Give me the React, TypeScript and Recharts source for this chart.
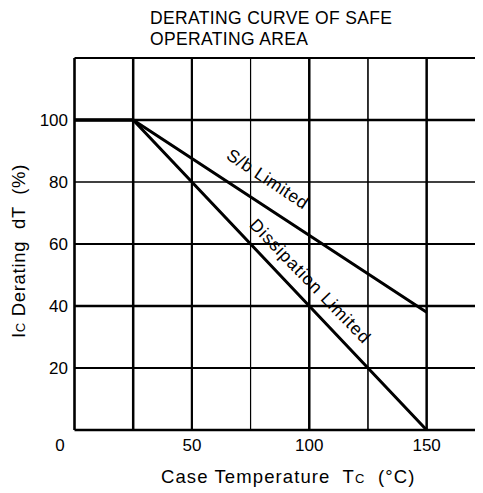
import React from "react";
import {
  LineChart,
  Line,
  XAxis,
  YAxis,
  ReferenceLine,
  ReferenceDot,
  Label,
} from "recharts";

// Case temperature (°C) breakpoints
const temps = [0, 25, 150];
// S/b limited derating (%)
const sbLimited = [100, 100, 38];
// Dissipation limited derating (%)
const dissLimited = [100, 100, 0];

const xTicks = [0, 50, 100, 150];
const yTicks = [20, 40, 60, 80, 100];
const xGrid = [25, 50, 75, 100, 125, 150];
const yGrid = [20, 40, 60, 80, 100, 120];

const titleLines = ["DERATING CURVE OF SAFE", "OPERATING AREA"];
const curveNames = ["S/b Limited", "Dissipation Limited"];
// label anchor points in data units (temperature, %)
const curveLabelTemps = [82.3, 100.5];
const curveLabelValues = [81.0, 48.0];

// styles
const xGridWidths = [2.5, 2.2, 1.2, 2.5, 1.6, 2.5];
const yGridWidths = [1.8, 2.5, 1.8, 1.3, 2.5, 2];
const curveLabelAngles = [33.5, 46];
const curveLabelSpacing = [0.6, 1.0];
const FONT = "'Liberation Sans', Arial, Helvetica, sans-serif";

const data = temps.map((t, i) => ({ t, sb: sbLimited[i], diss: dissLimited[i] }));

const XTick = (props: any) => {
  const { x, y, payload } = props;
  return (
    <text
      x={x + (payload.value === 0 ? -14.5 : 0)}
      y={y}
      dy="0.71em"
      textAnchor="middle"
      fontSize={17}
      fontFamily={FONT}
      fill="#000"
    >
      {payload.value}
    </text>
  );
};

const XLabel = (props: any) => {
  const vb = props.viewBox;
  return (
    <text
      x={vb.x + vb.width / 2 + 9.5}
      y={vb.y + 53}
      textAnchor="middle"
      fontSize={18.5}
      fontFamily={FONT}
      fill="#000"
      letterSpacing={1.1}
      style={{ whiteSpace: "pre" }}
    >
      {"Case Temperature  T"}
      <tspan fontSize={13}>C</tspan>
      {"  (°C)"}
    </text>
  );
};

const YLabel = (props: any) => {
  const vb = props.viewBox;
  const cx = vb.x + 16.5;
  const cy = vb.y + vb.height / 2 + 7;
  return (
    <text
      x={cx}
      y={cy}
      transform={`rotate(-90 ${cx} ${cy})`}
      textAnchor="middle"
      fontSize={18.5}
      fontFamily={FONT}
      fill="#000"
      letterSpacing={0.7}
      style={{ whiteSpace: "pre" }}
    >
      {"I"}
      <tspan fontSize={13}>C</tspan>
      {" Derating  dT  (%)"}
    </text>
  );
};

const makeCurveLabel = (text: string, angle: number, spacing: number) => (p: any) => (
  <text
    x={p.cx}
    y={p.cy}
    transform={`rotate(${angle} ${p.cx} ${p.cy})`}
    textAnchor="middle"
    dominantBaseline="central"
    fontSize={17.5}
    fontFamily={FONT}
    letterSpacing={spacing}
    fill="#000"
  >
    {text}
  </text>
);

export default function App() {
  return (
    <div style={{ position: "relative", width: 475, height: 485, fontFamily: FONT }}>
      <style>{"html,body{overflow:hidden}"}</style>
      <div
        style={{
          position: "absolute",
          left: 142,
          top: 0,
          fontSize: 17.5,
          lineHeight: "21px",
          letterSpacing: 0.35,
          color: "#000",
          whiteSpace: "pre",
          zIndex: 2,
        }}
      >
        {titleLines.map((l) => (
          <div key={l}>{l}</div>
        ))}
      </div>
      <LineChart
        width={475}
        height={485}
        data={data}
        margin={{ top: 50, right: 0, bottom: 0, left: 0 }}
      >
        <XAxis
          dataKey="t"
          type="number"
          domain={[0, 174]}
          ticks={xTicks}
          allowDataOverflow
          height={63}
          tickLine={false}
          tickSize={0}
          tickMargin={9}
          axisLine={{ stroke: "#000", strokeWidth: 2.6 }}
          tick={<XTick />}
        >
          <Label content={<XLabel />} />
        </XAxis>
        <YAxis
          type="number"
          domain={[0, 120]}
          ticks={yTicks}
          width={66.5}
          tickLine={false}
          tickSize={0}
          tickMargin={6.5}
          axisLine={{ stroke: "#000", strokeWidth: 2.6 }}
          tick={{ fill: "#000", fontSize: 17, fontFamily: FONT }}
        >
          <Label content={<YLabel />} />
        </YAxis>
        {xGrid.map((g, i) => (
          <ReferenceLine key={"x" + g} x={g} stroke="#000" strokeWidth={xGridWidths[i]} ifOverflow="visible" />
        ))}
        {yGrid.map((g, i) => (
          <ReferenceLine key={"y" + g} y={g} stroke="#000" strokeWidth={yGridWidths[i]} ifOverflow="visible" />
        ))}
        <Line
          type="linear"
          dataKey="sb"
          stroke="#000"
          strokeWidth={3}
          dot={false}
          isAnimationActive={false}
        />
        <Line
          type="linear"
          dataKey="diss"
          stroke="#000"
          strokeWidth={3}
          dot={false}
          isAnimationActive={false}
        />
        {curveNames.map((n, i) => (
          <ReferenceDot
            key={n}
            x={curveLabelTemps[i]}
            y={curveLabelValues[i]}
            r={0}
            ifOverflow="visible"
            shape={makeCurveLabel(n, curveLabelAngles[i], curveLabelSpacing[i])}
          />
        ))}
      </LineChart>
    </div>
  );
}
